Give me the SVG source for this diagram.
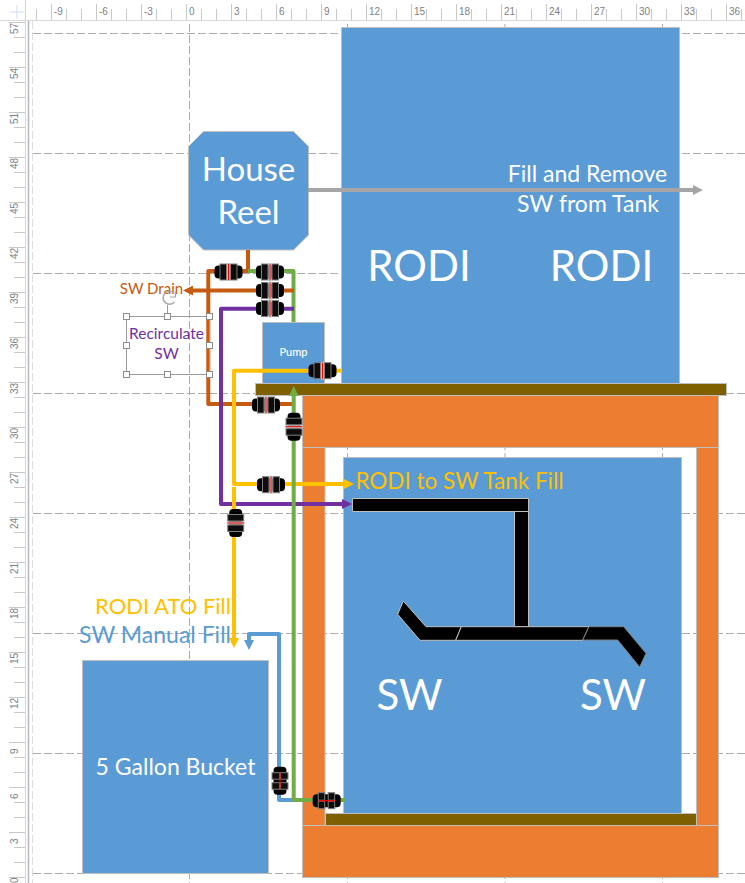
<svg xmlns="http://www.w3.org/2000/svg" xmlns:xlink="http://www.w3.org/1999/xlink" width="745" height="883" viewBox="0 0 745 883">
<style>
.rl{font-family:"Liberation Sans",Arial,sans-serif;font-size:10px;fill:#808080}
.t{font-family:Lato,"Open Sans",sans-serif;text-anchor:middle}
.w{fill:#fff}
.box{fill:#5B9BD5;stroke:#BFBFBF;stroke-width:1}
.or{fill:#ED7D31;stroke:#BFBFBF;stroke-width:1}
.sh{fill:#7F6000;stroke:#BFBFBF;stroke-width:1}
.pipe{fill:#000;stroke:#BFBFBF;stroke-width:1}
.c{fill:none;stroke-width:4;stroke-linejoin:round}
.grid{fill:none;stroke:#ABABAB;stroke-dasharray:8 3}
.hd{fill:#fff;stroke:#8C8C8C}
</style>
<defs>
<marker id="mB" viewBox="0 0 10 10" refX="1" refY="5" markerUnits="userSpaceOnUse" markerWidth="10" markerHeight="10" orient="auto"><path d="M0 0L10 5L0 10Z" fill="#C55A11"/></marker>
<marker id="mY" viewBox="0 0 10 10" refX="1" refY="5" markerUnits="userSpaceOnUse" markerWidth="10" markerHeight="10" orient="auto"><path d="M0 0L10 5L0 10Z" fill="#FFC000"/></marker>
<marker id="mP" viewBox="0 0 10 10" refX="1" refY="5" markerUnits="userSpaceOnUse" markerWidth="10" markerHeight="10" orient="auto"><path d="M0 0L10 5L0 10Z" fill="#7030A0"/></marker>
<marker id="mG" viewBox="0 0 10 10" refX="1" refY="5" markerUnits="userSpaceOnUse" markerWidth="10" markerHeight="10" orient="auto"><path d="M0 0L10 5L0 10Z" fill="#70AD47"/></marker>
<marker id="mL" viewBox="0 0 10 10" refX="1" refY="5" markerUnits="userSpaceOnUse" markerWidth="10" markerHeight="10" orient="auto"><path d="M0 0L10 5L0 10Z" fill="#5B9BD5"/></marker>
<marker id="mA" viewBox="0 0 10 10" refX="1" refY="5" markerUnits="userSpaceOnUse" markerWidth="10" markerHeight="10" orient="auto"><path d="M0 0L10 5L0 10Z" fill="#A5A5A5"/></marker>
<g id="fit">
<rect x="-14" y="-6.5" width="28" height="13" rx="4" fill="#000"/>
<rect x="-8.5" y="-8" width="6.5" height="16" fill="#0D0D0D" stroke="#7F7F7F"/>
<rect x="2" y="-8" width="6.5" height="16" fill="#0D0D0D" stroke="#7F7F7F"/>
<rect x="-1.5" y="-9" width="3" height="18" fill="#BDBDBD"/>
<path d="M0-8V8" stroke="#FF0000" stroke-width="1"/>
</g>
<g id="fit2">
<rect x="-6.5" y="-14" width="13" height="28" rx="4" fill="#000"/>
<rect x="-8" y="-8" width="7.5" height="6.5" fill="#0D0D0D" stroke="#7F7F7F"/>
<rect x="0.5" y="-8" width="7.5" height="6.5" fill="#0D0D0D" stroke="#7F7F7F"/>
<rect x="-8" y="2" width="7.5" height="6.5" fill="#0D0D0D" stroke="#7F7F7F"/>
<rect x="0.5" y="2" width="7.5" height="6.5" fill="#0D0D0D" stroke="#7F7F7F"/>
<path d="M0-8V8" stroke="#FF0000" stroke-width="1.2"/>
</g>
</defs>
<rect width="745" height="883" fill="#fff"/>
<g id="rulers">
<path d="M0 20.5H745M25.5 0V883" stroke="#D9D9D9" stroke-width="1.2" fill="none"/>
<path d="M28.5 21V883" stroke="#B4B8BE" stroke-width="1.5" fill="none"/>
<path d="M32.5 21V883" stroke="#DDD" stroke-dasharray="8 3" fill="none"/>
<path d="M10 12H24M17 5V19" stroke="#D5DCF5" fill="none"/>
<path d="M36 14.5H745" stroke="#C8C8C8" stroke-width="11" stroke-dasharray="1 14" fill="none"/>
<path d="M51 12H745" stroke="#C8C8C8" stroke-width="16" stroke-dasharray="1 44" fill="none"/>
<path d="M19.5 22V883" stroke="#C8C8C8" stroke-width="11" stroke-dasharray="1 14" fill="none"/>
<path d="M17 22V883" stroke="#C8C8C8" stroke-width="16" stroke-dasharray="1 44" fill="none"/>
<text class="rl" x="54" y="15">-9</text><text class="rl" x="99" y="15">-6</text><text class="rl" x="144" y="15">-3</text><text class="rl" x="189" y="15">0</text><text class="rl" x="234" y="15">3</text><text class="rl" x="279" y="15">6</text><text class="rl" x="324" y="15">9</text><text class="rl" x="369" y="15">12</text><text class="rl" x="414" y="15">15</text><text class="rl" x="459" y="15">18</text><text class="rl" x="504" y="15">21</text><text class="rl" x="549" y="15">24</text><text class="rl" x="594" y="15">27</text><text class="rl" x="639" y="15">30</text><text class="rl" x="684" y="15">33</text><text class="rl" x="729" y="15">36</text>
<text class="rl" transform="translate(18 34) rotate(-90)">57</text><text class="rl" transform="translate(18 79) rotate(-90)">54</text><text class="rl" transform="translate(18 124) rotate(-90)">51</text><text class="rl" transform="translate(18 169) rotate(-90)">48</text><text class="rl" transform="translate(18 214) rotate(-90)">45</text><text class="rl" transform="translate(18 259) rotate(-90)">42</text><text class="rl" transform="translate(18 304) rotate(-90)">39</text><text class="rl" transform="translate(18 349) rotate(-90)">36</text><text class="rl" transform="translate(18 394) rotate(-90)">33</text><text class="rl" transform="translate(18 439) rotate(-90)">30</text><text class="rl" transform="translate(18 484) rotate(-90)">27</text><text class="rl" transform="translate(18 529) rotate(-90)">24</text><text class="rl" transform="translate(18 574) rotate(-90)">21</text><text class="rl" transform="translate(18 619) rotate(-90)">18</text><text class="rl" transform="translate(18 664) rotate(-90)">15</text><text class="rl" transform="translate(18 709) rotate(-90)">12</text><text class="rl" transform="translate(18 754) rotate(-90)">9</text><text class="rl" transform="translate(18 799) rotate(-90)">6</text><text class="rl" transform="translate(18 844) rotate(-90)">3</text><text class="rl" transform="translate(18 883) rotate(-90)">0</text>
</g>
<g id="grid">
<path class="grid" d="M33 33.5H745M33 153.5H745M33 273.5H745M33 393.5H745M33 513.5H745M33 633.5H745M33 753.5H745M33 873.5H745M189.5 24V883M347.5 24V883M505 24V883M662.5 24V883"/>
</g>
<g id="rodi-tank"><rect class="box" x="341.5" y="27.5" width="338" height="357"/><text class="t w" x="419" y="281" font-size="42">RODI</text><text class="t w" x="601.5" y="281" font-size="42">RODI</text></g>
<g id="stand">
<rect class="or" x="302.5" y="395.5" width="416" height="52"/>
<rect class="or" x="302.5" y="447.5" width="22.5" height="378"/>
<rect class="or" x="696.5" y="447.5" width="22" height="378"/>
<rect class="or" x="302.5" y="825.5" width="416" height="52"/>
</g>
<g id="sw-tank"><rect class="box" x="343.5" y="457.5" width="338" height="356"/><text class="t w" x="409.5" y="710" font-size="42">SW</text><text class="t w" x="613" y="710" font-size="42">SW</text></g>
<g id="shelf-bottom"><rect class="sh" x="325.5" y="813.5" width="371" height="12"/></g>
<g id="pump"><rect class="box" x="262.5" y="322.5" width="62" height="61"/><text class="t w" x="293.5" y="356" font-size="11" font-weight="500">Pump</text></g>
<g id="shelf-top"><rect class="sh" x="255.5" y="383.5" width="471" height="12"/></g>
<g id="house-reel"><path class="box" d="M203.5 131.5H293.5L308.5 146.5V235L293.5 250H203.5L188.5 235V146.5Z"/><text class="t w" x="248.5" y="181" font-size="33">House</text><text class="t w" x="248.5" y="224" font-size="33">Reel</text></g>
<g id="bucket"><rect class="box" x="82.5" y="660.5" width="186" height="213"/><text class="t w" x="175.5" y="775" font-size="23">5 Gallon Bucket</text></g>
<g id="overflow-pipes">
<path class="pipe" d="M352.5 498.5H528.5V511.5H352.5Z"/>
<path class="pipe" d="M514.5 511.5H528.5V626.7H514.5Z"/>
<path class="pipe" d="M403.3 601L397.7 614.3L420 640.3H455.7L461.3 626.7H426Z"/>
<path class="pipe" d="M461.3 626.7H589L582.7 640.3H455.7Z"/>
<path d="M589 626.7H623.7L646 653.3L639.7 667L617.7 640H582.7Z" fill="#000" stroke="#7F7F7F"/>
</g>
<g id="connectors">
<path class="c" stroke="#C55A11" d="M248 250V271H208.3V404H293"/>
<path class="c" stroke="#70AD47" d="M248 271H293.5V322"/>
<path class="c" stroke="#C55A11" marker-end="url(#mB)" d="M294 290.5H192"/>
<path class="c" stroke="#7030A0" marker-end="url(#mP)" d="M294 308.7H221V504H343"/>
<path class="c" stroke="#FFC000" marker-end="url(#mY)" d="M341 370.7H234V484H345"/>
<path class="c" stroke="#FFC000" marker-end="url(#mY)" d="M234 487V639"/>
<path class="c" stroke="#5B9BD5" marker-end="url(#mL)" d="M294 800H279V634H249V641"/>
<path class="c" stroke="#70AD47" marker-end="url(#mG)" d="M345 800H293.7V395"/>
<path class="c" stroke="#A5A5A5" stroke-width="3" marker-end="url(#mA)" d="M308 190H694"/>
</g>
<g id="fittings">
<use xlink:href="#fit" href="#fit" x="228.5" y="272"/>
<use xlink:href="#fit" href="#fit" x="270" y="272"/>
<use xlink:href="#fit" href="#fit" x="270" y="290.5"/>
<use xlink:href="#fit" href="#fit" x="270" y="308.5"/>
<use xlink:href="#fit" href="#fit" x="322.5" y="370.7"/>
<use xlink:href="#fit" href="#fit" x="266" y="405"/>
<use xlink:href="#fit" href="#fit" x="271" y="484.7"/>
<use xlink:href="#fit" href="#fit" transform="translate(294 426.7) rotate(90)"/>
<use xlink:href="#fit" href="#fit" transform="translate(235.7 523) rotate(90)"/>
<use xlink:href="#fit2" href="#fit2" x="280" y="780.7"/>
<use xlink:href="#fit2" href="#fit2" transform="translate(326.7 800.7) rotate(90)"/>
</g>
<g id="labels">
<text class="t" x="587.5" y="182" font-size="23" fill="#fff">Fill and Remove</text>
<text class="t" x="588" y="212" font-size="23" fill="#fff">SW from Tank</text>
<text class="t" x="151.5" y="294" font-size="15" fill="#C55A11">SW Drain</text>
<text class="t" x="459.5" y="489" font-size="22.5" fill="#FFC000">RODI to SW Tank Fill</text>
<text class="t" x="163" y="614" font-size="22" fill="#FFC000">RODI ATO Fill</text>
<text class="t" x="155" y="643" font-size="23" fill="#5B9BD5">SW Manual Fill</text>
</g>
<g id="recirculate-label">
<path d="M126.5 316.5H209.5V374.5H126.5Z M167.5 316V305" fill="none" stroke="#9A9A9A"/>
<path d="M174 293A6.5 6.5 0 1 0 174.5 302" fill="none" stroke="#A8A8A8" stroke-width="1.5"/>
<path d="M170 297H175.5V291.5" fill="none" stroke="#A8A8A8" stroke-width="1.2"/>
<rect class="hd" x="123.5" y="313.5" width="6" height="6"/><rect class="hd" x="164.5" y="313.5" width="6" height="6"/><rect class="hd" x="206.5" y="313.5" width="6" height="6"/>
<rect class="hd" x="123.5" y="342.5" width="6" height="6"/><rect class="hd" x="206.5" y="342.5" width="6" height="6"/>
<rect class="hd" x="123.5" y="371.5" width="6" height="6"/><rect class="hd" x="164.5" y="371.5" width="6" height="6"/><rect class="hd" x="206.5" y="371.5" width="6" height="6"/>
<text class="t" x="166.5" y="339" font-size="15.5" fill="#7030A0">Recirculate</text>
<text class="t" x="166.5" y="359" font-size="15.5" fill="#7030A0">SW</text>
</g>
</svg>
